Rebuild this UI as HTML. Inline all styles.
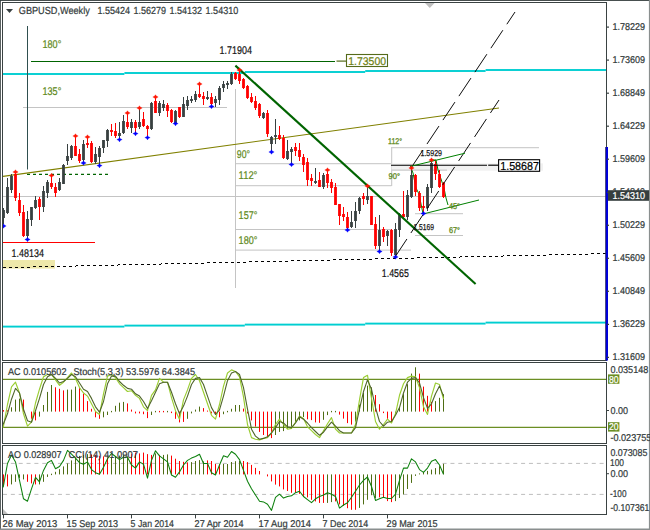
<!DOCTYPE html>
<html><head><meta charset="utf-8"><title>GBPUSD Weekly</title>
<style>html,body{margin:0;padding:0;background:#fff}svg{display:block}</style></head>
<body>
<svg width="650" height="530" viewBox="0 0 650 530" font-family="'Liberation Sans', sans-serif" text-rendering="geometricPrecision">
<rect width="650" height="530" fill="#fff"/>
<defs><clipPath id="mainclip"><rect x="3" y="3" width="603" height="357"/></clipPath></defs>
<g>
<rect x="23.0" y="107.0" width="204.0" height="1.0" fill="#c4c4c4"/>
<rect x="235.0" y="89.0" width="1.0" height="199.0" fill="#c4c4c4"/>
<rect x="235.0" y="163.2" width="156.5" height="1.0" fill="#c4c4c4"/>
<rect x="235.0" y="185.2" width="156.5" height="1.0" fill="#c4c4c4"/>
<rect x="235.0" y="229.0" width="156.5" height="1.0" fill="#c4c4c4"/>
<rect x="235.0" y="249.6" width="176.0" height="1.0" fill="#c4c4c4"/>
<rect x="3.0" y="196.0" width="603.0" height="1.0" fill="#c4c4c4"/>
<rect x="391.2" y="147.2" width="1.0" height="38.8" fill="#c4c4c4"/>
<rect x="391.2" y="147.2" width="147.8" height="1.0" fill="#c4c4c4"/>
<rect x="391.5" y="163.4" width="151.5" height="7.3" fill="#f1f1f1"/>
<rect x="391.2" y="169.6" width="55.8" height="1.0" fill="#c4c4c4"/>
<rect x="415.0" y="213.2" width="48.0" height="1.0" fill="#c4c4c4"/>
<rect x="415.0" y="235.0" width="48.0" height="1.0" fill="#c4c4c4"/>
</g>
<rect x="3" y="260" width="52" height="8.6" fill="#eee8aa"/>
<rect x="3.0" y="73.05" width="121.4" height="1.9" fill="#00ced1"/>
<rect x="3.0" y="325.65" width="121.4" height="1.9" fill="#00ced1"/>
<rect x="124.4" y="72.05" width="120.4" height="1.9" fill="#00ced1"/>
<rect x="124.4" y="324.65" width="120.4" height="1.9" fill="#00ced1"/>
<rect x="244.8" y="71.05" width="120.4" height="1.9" fill="#00ced1"/>
<rect x="244.8" y="323.65" width="120.4" height="1.9" fill="#00ced1"/>
<rect x="365.2" y="70.05" width="120.4" height="1.9" fill="#00ced1"/>
<rect x="365.2" y="322.65" width="120.4" height="1.9" fill="#00ced1"/>
<rect x="485.6" y="69.05" width="120.4" height="1.9" fill="#00ced1"/>
<rect x="485.6" y="321.65" width="120.4" height="1.9" fill="#00ced1"/>
<line x1="31" y1="61.5" x2="335" y2="61.5" stroke="#006400" stroke-width="1.2"/>
<line x1="336.5" y1="61.1" x2="346" y2="61.1" stroke="#556b1a" stroke-width="1.2"/>
<rect x="346.5" y="54.5" width="41" height="12" fill="#fff" stroke="#556b1a" stroke-width="1.1"/>
<text x="348.2" y="64.7" font-size="11.2" fill="#6d7f12" stroke="#6d7f12" stroke-width="0.22" textLength="37.9" lengthAdjust="spacingAndGlyphs">1.73500</text>
<line x1="27.5" y1="26" x2="27.5" y2="169.5" stroke="#2f4f4f" stroke-width="1"/>
<line x1="27" y1="174.4" x2="108" y2="174.4" stroke="#006400" stroke-width="1.1" stroke-dasharray="3 3"/>
<line x1="3" y1="242.5" x2="95" y2="242.5" stroke="#ff0000" stroke-width="1.2"/>
<line x1="3" y1="176.4" x2="499" y2="108" stroke="#808000" stroke-width="1.1"/>
<line x1="3" y1="267.7" x2="606" y2="253.6" stroke="#000" stroke-width="1" stroke-dasharray="3 3" shape-rendering="crispEdges"/>
<polyline points="431,160 436,160 438,170 441,179 444,188 446,198 448,205" fill="none" stroke="#008000" stroke-width="1"/>
<polyline points="411,168 413,173 416,188 419,194 421,204 423,213.6" fill="none" stroke="#008000" stroke-width="1"/>
<g clip-path="url(#mainclip)">
<rect x="3" y="208.0" width="1" height="16.0" fill="#384040"/>
<rect x="2.1" y="210.0" width="2.8" height="8.0" fill="#384040"/>
<rect x="7" y="178.0" width="1" height="36.0" fill="#384040"/>
<rect x="6.1" y="187.0" width="2.8" height="26.0" fill="#384040"/>
<rect x="11" y="174.0" width="1" height="19.0" fill="#384040"/>
<rect x="10.1" y="176.0" width="2.8" height="14.0" fill="#384040"/>
<rect x="15" y="172.0" width="1" height="29.0" fill="#ff0000"/>
<rect x="14.1" y="174.0" width="2.8" height="24.0" fill="#ff0000"/>
<rect x="19" y="193.0" width="1" height="23.0" fill="#ff0000"/>
<rect x="18.1" y="200.0" width="2.8" height="13.0" fill="#ff0000"/>
<rect x="23" y="205.0" width="1" height="32.0" fill="#ff0000"/>
<rect x="22.1" y="212.0" width="2.8" height="24.0" fill="#ff0000"/>
<rect x="27" y="211.0" width="1" height="27.0" fill="#384040"/>
<rect x="26.1" y="219.0" width="2.8" height="17.0" fill="#384040"/>
<rect x="31" y="207.0" width="1" height="19.0" fill="#384040"/>
<rect x="30.1" y="207.0" width="2.8" height="13.0" fill="#384040"/>
<rect x="35" y="196.0" width="1" height="13.0" fill="#384040"/>
<rect x="34.1" y="200.0" width="2.8" height="8.0" fill="#384040"/>
<rect x="39" y="197.0" width="1" height="23.0" fill="#ff0000"/>
<rect x="38.1" y="199.0" width="2.8" height="8.0" fill="#ff0000"/>
<rect x="43" y="186.0" width="1" height="26.0" fill="#384040"/>
<rect x="42.1" y="191.0" width="2.8" height="16.0" fill="#384040"/>
<rect x="47" y="180.0" width="1" height="18.0" fill="#384040"/>
<rect x="46.1" y="182.0" width="2.8" height="11.0" fill="#384040"/>
<rect x="51" y="176.0" width="1" height="13.0" fill="#ff0000"/>
<rect x="50.1" y="183.0" width="2.8" height="4.0" fill="#ff0000"/>
<rect x="55" y="183.0" width="1" height="14.0" fill="#ff0000"/>
<rect x="54.1" y="187.0" width="2.8" height="6.0" fill="#ff0000"/>
<rect x="59" y="178.0" width="1" height="13.0" fill="#384040"/>
<rect x="58.1" y="182.0" width="2.8" height="8.0" fill="#384040"/>
<rect x="63" y="164.0" width="1" height="20.0" fill="#384040"/>
<rect x="62.1" y="165.0" width="2.8" height="19.0" fill="#384040"/>
<rect x="67" y="144.0" width="1" height="21.0" fill="#384040"/>
<rect x="66.1" y="156.0" width="2.8" height="5.0" fill="#384040"/>
<rect x="71" y="145.0" width="1" height="15.0" fill="#384040"/>
<rect x="70.1" y="146.0" width="2.8" height="12.0" fill="#384040"/>
<rect x="75" y="137.0" width="1" height="19.0" fill="#ff0000"/>
<rect x="74.1" y="146.0" width="2.8" height="10.0" fill="#ff0000"/>
<rect x="79" y="149.0" width="1" height="14.0" fill="#ff0000"/>
<rect x="78.1" y="154.0" width="2.8" height="7.0" fill="#ff0000"/>
<rect x="83" y="140.0" width="1" height="22.0" fill="#384040"/>
<rect x="82.1" y="144.0" width="2.8" height="16.0" fill="#384040"/>
<rect x="87" y="138.0" width="1" height="10.0" fill="#ff0000"/>
<rect x="86.1" y="143.0" width="2.8" height="2.0" fill="#ff0000"/>
<rect x="91" y="141.0" width="1" height="22.0" fill="#ff0000"/>
<rect x="90.1" y="143.0" width="2.8" height="19.0" fill="#ff0000"/>
<rect x="95" y="147.0" width="1" height="17.0" fill="#384040"/>
<rect x="94.1" y="154.0" width="2.8" height="8.0" fill="#384040"/>
<rect x="99" y="146.0" width="1" height="19.0" fill="#384040"/>
<rect x="98.1" y="148.0" width="2.8" height="9.0" fill="#384040"/>
<rect x="103" y="140.0" width="1" height="13.0" fill="#384040"/>
<rect x="102.1" y="140.0" width="2.8" height="8.0" fill="#384040"/>
<rect x="107" y="129.0" width="1" height="18.0" fill="#384040"/>
<rect x="106.1" y="130.0" width="2.8" height="11.0" fill="#384040"/>
<rect x="111" y="124.0" width="1" height="12.0" fill="#ff0000"/>
<rect x="110.1" y="130.0" width="2.8" height="2.0" fill="#ff0000"/>
<rect x="115" y="123.0" width="1" height="15.0" fill="#ff0000"/>
<rect x="114.1" y="131.0" width="2.8" height="5.0" fill="#ff0000"/>
<rect x="119" y="122.0" width="1" height="17.0" fill="#384040"/>
<rect x="118.1" y="133.0" width="2.8" height="3.0" fill="#384040"/>
<rect x="123" y="115.0" width="1" height="19.0" fill="#384040"/>
<rect x="122.1" y="121.0" width="2.8" height="12.0" fill="#384040"/>
<rect x="127" y="114.0" width="1" height="15.0" fill="#ff0000"/>
<rect x="126.1" y="122.0" width="2.8" height="5.0" fill="#ff0000"/>
<rect x="131" y="119.0" width="1" height="14.0" fill="#384040"/>
<rect x="130.1" y="122.0" width="2.8" height="6.0" fill="#384040"/>
<rect x="135" y="120.0" width="1" height="12.0" fill="#ff0000"/>
<rect x="134.1" y="122.0" width="2.8" height="6.0" fill="#ff0000"/>
<rect x="139" y="109.0" width="1" height="20.0" fill="#384040"/>
<rect x="138.1" y="122.0" width="2.8" height="5.0" fill="#384040"/>
<rect x="143" y="112.0" width="1" height="15.0" fill="#ff0000"/>
<rect x="142.1" y="119.0" width="2.8" height="7.0" fill="#ff0000"/>
<rect x="147" y="125.0" width="1" height="12.0" fill="#ff0000"/>
<rect x="146.1" y="126.0" width="2.8" height="3.0" fill="#ff0000"/>
<rect x="151" y="102.0" width="1" height="28.0" fill="#384040"/>
<rect x="150.1" y="103.0" width="2.8" height="26.0" fill="#384040"/>
<rect x="155" y="98.0" width="1" height="15.0" fill="#ff0000"/>
<rect x="154.1" y="101.0" width="2.8" height="12.0" fill="#ff0000"/>
<rect x="159" y="101.0" width="1" height="15.0" fill="#384040"/>
<rect x="158.1" y="103.0" width="2.8" height="10.0" fill="#384040"/>
<rect x="163" y="100.0" width="1" height="11.0" fill="#384040"/>
<rect x="162.1" y="104.0" width="2.8" height="4.0" fill="#384040"/>
<rect x="167" y="103.0" width="1" height="14.0" fill="#ff0000"/>
<rect x="166.1" y="105.0" width="2.8" height="6.0" fill="#ff0000"/>
<rect x="171" y="109.0" width="1" height="14.0" fill="#ff0000"/>
<rect x="170.1" y="110.0" width="2.8" height="12.0" fill="#ff0000"/>
<rect x="175" y="110.0" width="1" height="14.0" fill="#384040"/>
<rect x="174.1" y="111.0" width="2.8" height="12.0" fill="#384040"/>
<rect x="179" y="107.0" width="1" height="11.0" fill="#ff0000"/>
<rect x="178.1" y="107.0" width="2.8" height="10.0" fill="#ff0000"/>
<rect x="183" y="97.0" width="1" height="20.0" fill="#384040"/>
<rect x="182.1" y="104.0" width="2.8" height="13.0" fill="#384040"/>
<rect x="187" y="96.0" width="1" height="14.0" fill="#384040"/>
<rect x="186.1" y="100.0" width="2.8" height="6.0" fill="#384040"/>
<rect x="191" y="96.0" width="1" height="7.0" fill="#384040"/>
<rect x="190.1" y="99.0" width="2.8" height="2.0" fill="#384040"/>
<rect x="195" y="91.0" width="1" height="11.0" fill="#384040"/>
<rect x="194.1" y="94.0" width="2.8" height="6.0" fill="#384040"/>
<rect x="199" y="84.0" width="1" height="14.0" fill="#ff0000"/>
<rect x="198.1" y="94.0" width="2.8" height="3.0" fill="#ff0000"/>
<rect x="203" y="92.0" width="1" height="13.0" fill="#ff0000"/>
<rect x="202.1" y="96.0" width="2.8" height="3.0" fill="#ff0000"/>
<rect x="207" y="91.0" width="1" height="9.0" fill="#384040"/>
<rect x="206.1" y="97.0" width="2.8" height="2.0" fill="#384040"/>
<rect x="211" y="93.0" width="1" height="14.0" fill="#ff0000"/>
<rect x="210.1" y="97.0" width="2.8" height="7.0" fill="#ff0000"/>
<rect x="215" y="96.0" width="1" height="11.0" fill="#384040"/>
<rect x="214.1" y="99.0" width="2.8" height="4.0" fill="#384040"/>
<rect x="219" y="86.0" width="1" height="19.0" fill="#384040"/>
<rect x="218.1" y="88.0" width="2.8" height="12.0" fill="#384040"/>
<rect x="223" y="81.0" width="1" height="11.0" fill="#384040"/>
<rect x="222.1" y="84.0" width="2.8" height="4.0" fill="#384040"/>
<rect x="227" y="81.0" width="1" height="8.0" fill="#384040"/>
<rect x="226.1" y="83.0" width="2.8" height="2.0" fill="#384040"/>
<rect x="231" y="72.0" width="1" height="13.0" fill="#384040"/>
<rect x="230.1" y="74.0" width="2.8" height="10.0" fill="#384040"/>
<rect x="235" y="72.0" width="1" height="8.0" fill="#ff0000"/>
<rect x="234.1" y="73.0" width="2.8" height="6.0" fill="#ff0000"/>
<rect x="239" y="70.0" width="1" height="14.0" fill="#ff0000"/>
<rect x="238.1" y="74.0" width="2.8" height="7.0" fill="#ff0000"/>
<rect x="243" y="78.0" width="1" height="11.0" fill="#ff0000"/>
<rect x="242.1" y="79.0" width="2.8" height="9.0" fill="#ff0000"/>
<rect x="247" y="85.0" width="1" height="14.0" fill="#ff0000"/>
<rect x="246.1" y="86.0" width="2.8" height="12.0" fill="#ff0000"/>
<rect x="251" y="93.0" width="1" height="10.0" fill="#ff0000"/>
<rect x="250.1" y="97.0" width="2.8" height="5.0" fill="#ff0000"/>
<rect x="255" y="96.0" width="1" height="14.0" fill="#ff0000"/>
<rect x="254.1" y="101.0" width="2.8" height="7.0" fill="#ff0000"/>
<rect x="259" y="103.0" width="1" height="15.0" fill="#ff0000"/>
<rect x="258.1" y="104.0" width="2.8" height="12.0" fill="#ff0000"/>
<rect x="263" y="112.0" width="1" height="7.0" fill="#384040"/>
<rect x="262.1" y="113.0" width="2.8" height="5.0" fill="#384040"/>
<rect x="267" y="110.0" width="1" height="27.0" fill="#ff0000"/>
<rect x="266.1" y="113.0" width="2.8" height="21.0" fill="#ff0000"/>
<rect x="271" y="136.0" width="1" height="16.0" fill="#384040"/>
<rect x="270.1" y="137.0" width="2.8" height="7.0" fill="#384040"/>
<rect x="275" y="119.0" width="1" height="25.0" fill="#384040"/>
<rect x="274.1" y="135.0" width="2.8" height="2.0" fill="#384040"/>
<rect x="279" y="126.0" width="1" height="14.0" fill="#ff0000"/>
<rect x="278.1" y="135.0" width="2.8" height="4.0" fill="#ff0000"/>
<rect x="283" y="135.0" width="1" height="24.0" fill="#ff0000"/>
<rect x="282.1" y="138.0" width="2.8" height="20.0" fill="#ff0000"/>
<rect x="287" y="140.0" width="1" height="20.0" fill="#384040"/>
<rect x="286.1" y="151.0" width="2.8" height="8.0" fill="#384040"/>
<rect x="291" y="147.0" width="1" height="17.0" fill="#384040"/>
<rect x="290.1" y="149.0" width="2.8" height="3.0" fill="#384040"/>
<rect x="295" y="143.0" width="1" height="13.0" fill="#ff0000"/>
<rect x="294.1" y="147.0" width="2.8" height="4.0" fill="#ff0000"/>
<rect x="299" y="143.0" width="1" height="18.0" fill="#ff0000"/>
<rect x="298.1" y="150.0" width="2.8" height="7.0" fill="#ff0000"/>
<rect x="303" y="154.0" width="1" height="18.0" fill="#ff0000"/>
<rect x="302.1" y="157.0" width="2.8" height="8.0" fill="#ff0000"/>
<rect x="307" y="158.0" width="1" height="28.0" fill="#ff0000"/>
<rect x="306.1" y="162.0" width="2.8" height="18.0" fill="#ff0000"/>
<rect x="311" y="174.0" width="1" height="12.0" fill="#ff0000"/>
<rect x="310.1" y="178.0" width="2.8" height="3.0" fill="#ff0000"/>
<rect x="315" y="168.0" width="1" height="16.0" fill="#384040"/>
<rect x="314.1" y="181.0" width="2.8" height="2.0" fill="#384040"/>
<rect x="319" y="172.0" width="1" height="15.0" fill="#ff0000"/>
<rect x="318.1" y="180.0" width="2.8" height="7.0" fill="#ff0000"/>
<rect x="323" y="173.0" width="1" height="16.0" fill="#384040"/>
<rect x="322.1" y="175.0" width="2.8" height="12.0" fill="#384040"/>
<rect x="327" y="171.0" width="1" height="17.0" fill="#ff0000"/>
<rect x="326.1" y="174.0" width="2.8" height="9.0" fill="#ff0000"/>
<rect x="331" y="179.0" width="1" height="14.0" fill="#ff0000"/>
<rect x="330.1" y="182.0" width="2.8" height="6.0" fill="#ff0000"/>
<rect x="335" y="183.0" width="1" height="22.0" fill="#ff0000"/>
<rect x="334.1" y="187.0" width="2.8" height="18.0" fill="#ff0000"/>
<rect x="339" y="204.0" width="1" height="21.0" fill="#ff0000"/>
<rect x="338.1" y="204.0" width="2.8" height="12.0" fill="#ff0000"/>
<rect x="343" y="207.0" width="1" height="14.0" fill="#ff0000"/>
<rect x="342.1" y="214.0" width="2.8" height="3.0" fill="#ff0000"/>
<rect x="347" y="212.0" width="1" height="17.0" fill="#ff0000"/>
<rect x="346.1" y="217.0" width="2.8" height="11.0" fill="#ff0000"/>
<rect x="351" y="211.0" width="1" height="17.0" fill="#384040"/>
<rect x="350.1" y="222.0" width="2.8" height="5.0" fill="#384040"/>
<rect x="355" y="202.0" width="1" height="26.0" fill="#384040"/>
<rect x="354.1" y="211.0" width="2.8" height="10.0" fill="#384040"/>
<rect x="359" y="197.0" width="1" height="17.0" fill="#384040"/>
<rect x="358.1" y="198.0" width="2.8" height="13.0" fill="#384040"/>
<rect x="363" y="193.0" width="1" height="12.0" fill="#ff0000"/>
<rect x="362.1" y="196.0" width="2.8" height="3.0" fill="#ff0000"/>
<rect x="367" y="187.0" width="1" height="17.0" fill="#384040"/>
<rect x="366.1" y="196.0" width="2.8" height="4.0" fill="#384040"/>
<rect x="371" y="196.0" width="1" height="29.0" fill="#ff0000"/>
<rect x="370.1" y="196.0" width="2.8" height="29.0" fill="#ff0000"/>
<rect x="375" y="217.0" width="1" height="32.0" fill="#ff0000"/>
<rect x="374.1" y="224.0" width="2.8" height="22.0" fill="#ff0000"/>
<rect x="379" y="215.0" width="1" height="35.0" fill="#384040"/>
<rect x="378.1" y="230.0" width="2.8" height="16.0" fill="#384040"/>
<rect x="383" y="227.0" width="1" height="15.0" fill="#ff0000"/>
<rect x="382.1" y="229.0" width="2.8" height="8.0" fill="#ff0000"/>
<rect x="387" y="230.0" width="1" height="16.0" fill="#384040"/>
<rect x="386.1" y="231.0" width="2.8" height="5.0" fill="#384040"/>
<rect x="391" y="229.0" width="1" height="27.0" fill="#ff0000"/>
<rect x="390.1" y="230.0" width="2.8" height="23.0" fill="#ff0000"/>
<rect x="395" y="223.0" width="1" height="33.0" fill="#384040"/>
<rect x="394.1" y="229.0" width="2.8" height="26.0" fill="#384040"/>
<rect x="399" y="213.0" width="1" height="24.0" fill="#384040"/>
<rect x="398.1" y="214.0" width="2.8" height="16.0" fill="#384040"/>
<rect x="403" y="191.0" width="1" height="27.0" fill="#ff0000"/>
<rect x="402.1" y="214.0" width="2.8" height="3.0" fill="#ff0000"/>
<rect x="407" y="190.0" width="1" height="30.0" fill="#384040"/>
<rect x="406.1" y="195.0" width="2.8" height="22.0" fill="#384040"/>
<rect x="411" y="169.0" width="1" height="29.0" fill="#384040"/>
<rect x="410.1" y="175.0" width="2.8" height="22.0" fill="#384040"/>
<rect x="415" y="174.0" width="1" height="22.0" fill="#ff0000"/>
<rect x="414.1" y="175.0" width="2.8" height="17.0" fill="#ff0000"/>
<rect x="419" y="191.0" width="1" height="20.0" fill="#ff0000"/>
<rect x="418.1" y="193.0" width="2.8" height="15.0" fill="#ff0000"/>
<rect x="423" y="196.0" width="1" height="18.0" fill="#ff0000"/>
<rect x="422.1" y="206.0" width="2.8" height="2.0" fill="#ff0000"/>
<rect x="427" y="184.0" width="1" height="27.0" fill="#384040"/>
<rect x="426.1" y="187.0" width="2.8" height="21.0" fill="#384040"/>
<rect x="431" y="160.0" width="1" height="33.0" fill="#384040"/>
<rect x="430.1" y="163.0" width="2.8" height="25.0" fill="#384040"/>
<rect x="435" y="161.0" width="1" height="19.0" fill="#ff0000"/>
<rect x="434.1" y="164.0" width="2.8" height="10.0" fill="#ff0000"/>
<rect x="439" y="170.0" width="1" height="18.0" fill="#ff0000"/>
<rect x="438.1" y="174.0" width="2.8" height="13.0" fill="#ff0000"/>
<rect x="443" y="182.0" width="1" height="16.0" fill="#ff0000"/>
<rect x="442.1" y="183.0" width="2.8" height="14.0" fill="#ff0000"/>
</g>
<line x1="235.4" y1="65.6" x2="475.6" y2="284" stroke="#006400" stroke-width="2.1"/>
<line x1="411" y1="168" x2="515" y2="12" stroke="#000" stroke-width="0.95" stroke-dasharray="21.6 7.2"/>
<line x1="395" y1="257" x2="499" y2="100" stroke="#000" stroke-width="0.95" stroke-dasharray="21.6 7.2"/>
<line x1="391" y1="165.2" x2="487" y2="165.2" stroke="#000" stroke-width="1.15"/>
<line x1="488.2" y1="165.2" x2="498" y2="165.2" stroke="#000" stroke-width="1.15"/>
<rect x="498.6" y="159.7" width="41" height="11.6" fill="#fff" stroke="#000" stroke-width="1.1"/>
<text x="500.2" y="170.0" font-size="11.6" fill="#000" stroke="#000" stroke-width="0.22" textLength="38.8" lengthAdjust="spacingAndGlyphs">1.58687</text>
<line x1="410" y1="166.5" x2="465" y2="153.2" stroke="#008000" stroke-width="1"/>
<line x1="423" y1="214" x2="479" y2="200" stroke="#008000" stroke-width="1"/>
<g clip-path="url(#mainclip)">
<path d="M15.5 169.7 l0.9 1.4 l1.8 0.9 l-1.8 0.9 l-0.9 1.4 l-0.9 -1.4 l-1.8 -0.9 l1.8 -0.9z" fill="#ff1400" stroke="#ff1400" stroke-width="0.5" stroke-opacity="0.55"/>
<path d="M51.5 173.2 l0.9 1.4 l1.8 0.9 l-1.8 0.9 l-0.9 1.4 l-0.9 -1.4 l-1.8 -0.9 l1.8 -0.9z" fill="#ff1400" stroke="#ff1400" stroke-width="0.5" stroke-opacity="0.55"/>
<path d="M75.5 133.7 l0.9 1.4 l1.8 0.9 l-1.8 0.9 l-0.9 1.4 l-0.9 -1.4 l-1.8 -0.9 l1.8 -0.9z" fill="#ff1400" stroke="#ff1400" stroke-width="0.5" stroke-opacity="0.55"/>
<path d="M87.5 134.7 l0.9 1.4 l1.8 0.9 l-1.8 0.9 l-0.9 1.4 l-0.9 -1.4 l-1.8 -0.9 l1.8 -0.9z" fill="#ff1400" stroke="#ff1400" stroke-width="0.5" stroke-opacity="0.55"/>
<path d="M127.5 110.7 l0.9 1.4 l1.8 0.9 l-1.8 0.9 l-0.9 1.4 l-0.9 -1.4 l-1.8 -0.9 l1.8 -0.9z" fill="#ff1400" stroke="#ff1400" stroke-width="0.5" stroke-opacity="0.55"/>
<path d="M139.5 105.7 l0.9 1.4 l1.8 0.9 l-1.8 0.9 l-0.9 1.4 l-0.9 -1.4 l-1.8 -0.9 l1.8 -0.9z" fill="#ff1400" stroke="#ff1400" stroke-width="0.5" stroke-opacity="0.55"/>
<path d="M155.5 94.7 l0.9 1.4 l1.8 0.9 l-1.8 0.9 l-0.9 1.4 l-0.9 -1.4 l-1.8 -0.9 l1.8 -0.9z" fill="#ff1400" stroke="#ff1400" stroke-width="0.5" stroke-opacity="0.55"/>
<path d="M199.5 81.7 l0.9 1.4 l1.8 0.9 l-1.8 0.9 l-0.9 1.4 l-0.9 -1.4 l-1.8 -0.9 l1.8 -0.9z" fill="#ff1400" stroke="#ff1400" stroke-width="0.5" stroke-opacity="0.55"/>
<path d="M239.5 67.7 l0.9 1.4 l1.8 0.9 l-1.8 0.9 l-0.9 1.4 l-0.9 -1.4 l-1.8 -0.9 l1.8 -0.9z" fill="#ff1400" stroke="#ff1400" stroke-width="0.5" stroke-opacity="0.55"/>
<path d="M327.5 167.7 l0.9 1.4 l1.8 0.9 l-1.8 0.9 l-0.9 1.4 l-0.9 -1.4 l-1.8 -0.9 l1.8 -0.9z" fill="#ff1400" stroke="#ff1400" stroke-width="0.5" stroke-opacity="0.55"/>
<path d="M367.5 183.7 l0.9 1.4 l1.8 0.9 l-1.8 0.9 l-0.9 1.4 l-0.9 -1.4 l-1.8 -0.9 l1.8 -0.9z" fill="#ff1400" stroke="#ff1400" stroke-width="0.5" stroke-opacity="0.55"/>
<path d="M411.5 165.7 l0.9 1.4 l1.8 0.9 l-1.8 0.9 l-0.9 1.4 l-0.9 -1.4 l-1.8 -0.9 l1.8 -0.9z" fill="#ff1400" stroke="#ff1400" stroke-width="0.5" stroke-opacity="0.55"/>
<path d="M431.5 157.7 l0.9 1.4 l1.8 0.9 l-1.8 0.9 l-0.9 1.4 l-0.9 -1.4 l-1.8 -0.9 l1.8 -0.9z" fill="#ff1400" stroke="#ff1400" stroke-width="0.5" stroke-opacity="0.55"/>
<path d="M3.5 223.7 l0.9 1.4 l1.8 0.9 l-1.8 0.9 l-0.9 1.4 l-0.9 -1.4 l-1.8 -0.9 l1.8 -0.9z" fill="#0000ff" stroke="#0000ff" stroke-width="0.5" stroke-opacity="0.55"/>
<path d="M27.5 237.2 l0.9 1.4 l1.8 0.9 l-1.8 0.9 l-0.9 1.4 l-0.9 -1.4 l-1.8 -0.9 l1.8 -0.9z" fill="#0000ff" stroke="#0000ff" stroke-width="0.5" stroke-opacity="0.55"/>
<path d="M83.5 160.7 l0.9 1.4 l1.8 0.9 l-1.8 0.9 l-0.9 1.4 l-0.9 -1.4 l-1.8 -0.9 l1.8 -0.9z" fill="#0000ff" stroke="#0000ff" stroke-width="0.5" stroke-opacity="0.55"/>
<path d="M99.5 163.3 l0.9 1.4 l1.8 0.9 l-1.8 0.9 l-0.9 1.4 l-0.9 -1.4 l-1.8 -0.9 l1.8 -0.9z" fill="#0000ff" stroke="#0000ff" stroke-width="0.5" stroke-opacity="0.55"/>
<path d="M119.5 137.3 l0.9 1.4 l1.8 0.9 l-1.8 0.9 l-0.9 1.4 l-0.9 -1.4 l-1.8 -0.9 l1.8 -0.9z" fill="#0000ff" stroke="#0000ff" stroke-width="0.5" stroke-opacity="0.55"/>
<path d="M135.5 131.3 l0.9 1.4 l1.8 0.9 l-1.8 0.9 l-0.9 1.4 l-0.9 -1.4 l-1.8 -0.9 l1.8 -0.9z" fill="#0000ff" stroke="#0000ff" stroke-width="0.5" stroke-opacity="0.55"/>
<path d="M147.5 135.3 l0.9 1.4 l1.8 0.9 l-1.8 0.9 l-0.9 1.4 l-0.9 -1.4 l-1.8 -0.9 l1.8 -0.9z" fill="#0000ff" stroke="#0000ff" stroke-width="0.5" stroke-opacity="0.55"/>
<path d="M175.5 121.3 l0.9 1.4 l1.8 0.9 l-1.8 0.9 l-0.9 1.4 l-0.9 -1.4 l-1.8 -0.9 l1.8 -0.9z" fill="#0000ff" stroke="#0000ff" stroke-width="0.5" stroke-opacity="0.55"/>
<path d="M211.5 104.2 l0.9 1.4 l1.8 0.9 l-1.8 0.9 l-0.9 1.4 l-0.9 -1.4 l-1.8 -0.9 l1.8 -0.9z" fill="#0000ff" stroke="#0000ff" stroke-width="0.5" stroke-opacity="0.55"/>
<path d="M271.5 149.7 l0.9 1.4 l1.8 0.9 l-1.8 0.9 l-0.9 1.4 l-0.9 -1.4 l-1.8 -0.9 l1.8 -0.9z" fill="#0000ff" stroke="#0000ff" stroke-width="0.5" stroke-opacity="0.55"/>
<path d="M291.5 162.2 l0.9 1.4 l1.8 0.9 l-1.8 0.9 l-0.9 1.4 l-0.9 -1.4 l-1.8 -0.9 l1.8 -0.9z" fill="#0000ff" stroke="#0000ff" stroke-width="0.5" stroke-opacity="0.55"/>
<path d="M347.5 227.7 l0.9 1.4 l1.8 0.9 l-1.8 0.9 l-0.9 1.4 l-0.9 -1.4 l-1.8 -0.9 l1.8 -0.9z" fill="#0000ff" stroke="#0000ff" stroke-width="0.5" stroke-opacity="0.55"/>
<path d="M379.5 249.2 l0.9 1.4 l1.8 0.9 l-1.8 0.9 l-0.9 1.4 l-0.9 -1.4 l-1.8 -0.9 l1.8 -0.9z" fill="#0000ff" stroke="#0000ff" stroke-width="0.5" stroke-opacity="0.55"/>
<path d="M395.5 254.7 l0.9 1.4 l1.8 0.9 l-1.8 0.9 l-0.9 1.4 l-0.9 -1.4 l-1.8 -0.9 l1.8 -0.9z" fill="#0000ff" stroke="#0000ff" stroke-width="0.5" stroke-opacity="0.55"/>
<path d="M423.5 211.2 l0.9 1.4 l1.8 0.9 l-1.8 0.9 l-0.9 1.4 l-0.9 -1.4 l-1.8 -0.9 l1.8 -0.9z" fill="#0000ff" stroke="#0000ff" stroke-width="0.5" stroke-opacity="0.55"/>
</g>
<text x="42.5" y="47.8" font-size="11.2" fill="#5f8a1c" stroke="#5f8a1c" stroke-width="0.22" textLength="18.8" lengthAdjust="spacingAndGlyphs">180°</text>
<text x="42.5" y="94.8" font-size="11.2" fill="#5f8a1c" stroke="#5f8a1c" stroke-width="0.22" textLength="18.8" lengthAdjust="spacingAndGlyphs">135°</text>
<text x="236.8" y="158.0" font-size="11.2" fill="#5f8a1c" stroke="#5f8a1c" stroke-width="0.22" textLength="13.2" lengthAdjust="spacingAndGlyphs">90°</text>
<text x="238.6" y="179.0" font-size="11.2" fill="#5f8a1c" stroke="#5f8a1c" stroke-width="0.22" textLength="18.8" lengthAdjust="spacingAndGlyphs">112°</text>
<text x="238.6" y="219.0" font-size="11.2" fill="#5f8a1c" stroke="#5f8a1c" stroke-width="0.22" textLength="18.8" lengthAdjust="spacingAndGlyphs">157°</text>
<text x="238.6" y="243.6" font-size="11.2" fill="#5f8a1c" stroke="#5f8a1c" stroke-width="0.22" textLength="18.8" lengthAdjust="spacingAndGlyphs">180°</text>
<text x="388.0" y="144.0" font-size="8.4" fill="#5f8a1c" stroke="#5f8a1c" stroke-width="0.30" textLength="14.0" lengthAdjust="spacingAndGlyphs">112°</text>
<text x="388.5" y="179.0" font-size="8.4" fill="#5f8a1c" stroke="#5f8a1c" stroke-width="0.30" textLength="11.5" lengthAdjust="spacingAndGlyphs">90°</text>
<text x="449.0" y="209.0" font-size="8.4" fill="#5f8a1c" stroke="#5f8a1c" stroke-width="0.30" textLength="11.0" lengthAdjust="spacingAndGlyphs">45°</text>
<text x="449.0" y="233.0" font-size="8.4" fill="#5f8a1c" stroke="#5f8a1c" stroke-width="0.30" textLength="11.0" lengthAdjust="spacingAndGlyphs">67°</text>
<text x="219.6" y="54.0" font-size="11.2" fill="#151515" stroke="#151515" stroke-width="0.22" textLength="32.3" lengthAdjust="spacingAndGlyphs">1.71904</text>
<text x="11.6" y="256.8" font-size="11.2" fill="#151515" stroke="#151515" stroke-width="0.22" textLength="32.3" lengthAdjust="spacingAndGlyphs">1.48134</text>
<text x="381.8" y="277.2" font-size="11.2" fill="#151515" stroke="#151515" stroke-width="0.22" textLength="27.0" lengthAdjust="spacingAndGlyphs">1.4565</text>
<text x="420.5" y="156.0" font-size="8.6" fill="#151515" stroke="#151515" stroke-width="0.25" textLength="21.5" lengthAdjust="spacingAndGlyphs">1.5929</text>
<text x="413.5" y="230.0" font-size="8.6" fill="#151515" stroke="#151515" stroke-width="0.25" textLength="20.5" lengthAdjust="spacingAndGlyphs">1.5169</text>
<path d="M6 9 h7 l-3.5 4z" fill="#384040"/>
<text x="18.8" y="14.0" font-size="10.3" fill="#333b3b" stroke="#333b3b" stroke-width="0.22" textLength="71.0" lengthAdjust="spacingAndGlyphs">GBPUSD,Weekly</text>
<text x="97.4" y="14.0" font-size="10.3" fill="#333b3b" stroke="#333b3b" stroke-width="0.22" textLength="32.6" lengthAdjust="spacingAndGlyphs">1.55424</text>
<text x="133.5" y="14.0" font-size="10.3" fill="#333b3b" stroke="#333b3b" stroke-width="0.22" textLength="32.6" lengthAdjust="spacingAndGlyphs">1.56279</text>
<text x="169.5" y="14.0" font-size="10.3" fill="#333b3b" stroke="#333b3b" stroke-width="0.22" textLength="32.6" lengthAdjust="spacingAndGlyphs">1.54132</text>
<text x="205.6" y="14.0" font-size="10.3" fill="#333b3b" stroke="#333b3b" stroke-width="0.22" textLength="32.6" lengthAdjust="spacingAndGlyphs">1.54310</text>
<path d="M425 3 h9.6 l-4.8 5z" fill="#c0c0c0"/>
<g shape-rendering="crispEdges" fill="none" stroke="#3a4242" stroke-width="1">
<rect x="2.5" y="2.5" width="604" height="358"/>
<rect x="2.5" y="362.5" width="604" height="81"/>
<rect x="2.5" y="445.5" width="604" height="69"/>
</g>
<g>
<rect x="0" y="0" width="650" height="0.9" fill="#333b3b"/>
<rect x="0" y="0" width="0.8" height="530" fill="#333b3b"/>
<rect x="648.9" y="0" width="1.1" height="530" fill="#8a8f8f"/>
<rect x="0" y="528.5" width="650" height="1.5" fill="#8a8f8f"/>
</g>
<rect x="605.2" y="147" width="0.8" height="213.5" fill="#2a2a5a"/>
<rect x="605.9" y="147" width="2.1" height="213.5" fill="#0000d8"/>
<rect x="607" y="26.5" width="2" height="1.2" fill="#3a4242"/>
<text x="612.4" y="29.9" font-size="9.9" fill="#333b3b" stroke="#333b3b" stroke-width="0.22" textLength="32.6" lengthAdjust="spacingAndGlyphs">1.78229</text>
<rect x="607" y="59.5" width="2" height="1.2" fill="#3a4242"/>
<text x="612.4" y="62.9" font-size="9.9" fill="#333b3b" stroke="#333b3b" stroke-width="0.22" textLength="32.6" lengthAdjust="spacingAndGlyphs">1.73609</text>
<rect x="607" y="92.6" width="2" height="1.2" fill="#3a4242"/>
<text x="612.4" y="96.0" font-size="9.9" fill="#333b3b" stroke="#333b3b" stroke-width="0.22" textLength="32.6" lengthAdjust="spacingAndGlyphs">1.68849</text>
<rect x="607" y="125.6" width="2" height="1.2" fill="#3a4242"/>
<text x="612.4" y="129.0" font-size="9.9" fill="#333b3b" stroke="#333b3b" stroke-width="0.22" textLength="32.6" lengthAdjust="spacingAndGlyphs">1.64229</text>
<rect x="607" y="158.6" width="2" height="1.2" fill="#3a4242"/>
<text x="612.4" y="162.0" font-size="9.9" fill="#333b3b" stroke="#333b3b" stroke-width="0.22" textLength="32.6" lengthAdjust="spacingAndGlyphs">1.59609</text>
<rect x="607" y="191.7" width="2" height="1.2" fill="#3a4242"/>
<text x="612.4" y="195.1" font-size="9.9" fill="#333b3b" stroke="#333b3b" stroke-width="0.22" textLength="32.6" lengthAdjust="spacingAndGlyphs">1.54849</text>
<rect x="607" y="224.7" width="2" height="1.2" fill="#3a4242"/>
<text x="612.4" y="228.1" font-size="9.9" fill="#333b3b" stroke="#333b3b" stroke-width="0.22" textLength="32.6" lengthAdjust="spacingAndGlyphs">1.50229</text>
<rect x="607" y="257.7" width="2" height="1.2" fill="#3a4242"/>
<text x="612.4" y="261.1" font-size="9.9" fill="#333b3b" stroke="#333b3b" stroke-width="0.22" textLength="32.6" lengthAdjust="spacingAndGlyphs">1.45609</text>
<rect x="607" y="290.7" width="2" height="1.2" fill="#3a4242"/>
<text x="612.4" y="294.1" font-size="9.9" fill="#333b3b" stroke="#333b3b" stroke-width="0.22" textLength="32.6" lengthAdjust="spacingAndGlyphs">1.40849</text>
<rect x="607" y="323.8" width="2" height="1.2" fill="#3a4242"/>
<text x="612.4" y="327.2" font-size="9.9" fill="#333b3b" stroke="#333b3b" stroke-width="0.22" textLength="32.6" lengthAdjust="spacingAndGlyphs">1.36229</text>
<rect x="607" y="356.8" width="2" height="1.2" fill="#3a4242"/>
<text x="612.4" y="360.2" font-size="9.9" fill="#333b3b" stroke="#333b3b" stroke-width="0.22" textLength="32.6" lengthAdjust="spacingAndGlyphs">1.31609</text>
<rect x="608" y="190.2" width="41" height="10.6" fill="#363f3f"/>
<text x="612.4" y="199.2" font-size="9.9" fill="#fff" stroke="#fff" stroke-width="0.22" textLength="32.6" lengthAdjust="spacingAndGlyphs">1.54310</text>
<line x1="3" y1="379.4" x2="606" y2="379.4" stroke="#6b8e23" stroke-width="1.3"/>
<line x1="3" y1="427.4" x2="606" y2="427.4" stroke="#6b8e23" stroke-width="1.3"/>
<g>
<rect x="3" y="410.1" width="1" height="1.5" fill="#ff0000"/>
<rect x="7" y="410.4" width="1" height="1.2" fill="#ff0000"/>
<rect x="11" y="407.3" width="1" height="4.3" fill="#4f6d14"/>
<rect x="15" y="399.6" width="1" height="12.0" fill="#4f6d14"/>
<rect x="19" y="398.6" width="1" height="13.0" fill="#4f6d14"/>
<rect x="23" y="399.6" width="1" height="12.0" fill="#ff0000"/>
<rect x="31" y="411.6" width="1" height="7.2" fill="#ff0000"/>
<rect x="35" y="411.6" width="1" height="8.8" fill="#ff0000"/>
<rect x="39" y="411.6" width="1" height="5.0" fill="#4f6d14"/>
<rect x="43" y="405.0" width="1" height="6.6" fill="#4f6d14"/>
<rect x="47" y="391.9" width="1" height="19.7" fill="#4f6d14"/>
<rect x="51" y="385.0" width="1" height="26.6" fill="#4f6d14"/>
<rect x="55" y="387.3" width="1" height="24.3" fill="#ff0000"/>
<rect x="59" y="388.8" width="1" height="22.8" fill="#ff0000"/>
<rect x="63" y="390.4" width="1" height="21.2" fill="#ff0000"/>
<rect x="67" y="389.6" width="1" height="22.0" fill="#4f6d14"/>
<rect x="71" y="389.6" width="1" height="22.0" fill="#4f6d14"/>
<rect x="75" y="386.6" width="1" height="25.0" fill="#4f6d14"/>
<rect x="79" y="388.1" width="1" height="23.5" fill="#ff0000"/>
<rect x="83" y="393.6" width="1" height="18.0" fill="#ff0000"/>
<rect x="87" y="401.1" width="1" height="10.5" fill="#ff0000"/>
<rect x="91" y="408.8" width="1" height="2.8" fill="#ff0000"/>
<rect x="95" y="411.6" width="1" height="5.7" fill="#ff0000"/>
<rect x="99" y="411.6" width="1" height="7.2" fill="#ff0000"/>
<rect x="103" y="411.6" width="1" height="5.7" fill="#4f6d14"/>
<rect x="107" y="411.6" width="1" height="3.4" fill="#4f6d14"/>
<rect x="111" y="410.9" width="1" height="1.4" fill="#4f6d14"/>
<rect x="115" y="405.8" width="1" height="5.8" fill="#4f6d14"/>
<rect x="119" y="402.7" width="1" height="8.9" fill="#4f6d14"/>
<rect x="123" y="401.9" width="1" height="9.7" fill="#4f6d14"/>
<rect x="127" y="403.4" width="1" height="8.2" fill="#ff0000"/>
<rect x="131" y="409.6" width="1" height="2.0" fill="#ff0000"/>
<rect x="135" y="411.6" width="1" height="1.8" fill="#ff0000"/>
<rect x="139" y="411.6" width="1" height="1.8" fill="#ff0000"/>
<rect x="143" y="411.6" width="1" height="2.6" fill="#ff0000"/>
<rect x="147" y="411.6" width="1" height="6.5" fill="#ff0000"/>
<rect x="151" y="411.6" width="1" height="3.4" fill="#4f6d14"/>
<rect x="155" y="410.9" width="1" height="1.4" fill="#4f6d14"/>
<rect x="159" y="410.9" width="1" height="1.4" fill="#ff0000"/>
<rect x="163" y="410.9" width="1" height="1.4" fill="#ff0000"/>
<rect x="167" y="410.9" width="1" height="1.4" fill="#4f6d14"/>
<rect x="171" y="411.6" width="1" height="1.5" fill="#ff0000"/>
<rect x="175" y="411.6" width="1" height="7.2" fill="#ff0000"/>
<rect x="179" y="411.6" width="1" height="10.8" fill="#ff0000"/>
<rect x="183" y="411.6" width="1" height="10.3" fill="#ff0000"/>
<rect x="187" y="411.6" width="1" height="7.2" fill="#4f6d14"/>
<rect x="191" y="411.6" width="1" height="1.8" fill="#4f6d14"/>
<rect x="195" y="409.6" width="1" height="2.0" fill="#4f6d14"/>
<rect x="199" y="406.6" width="1" height="5.0" fill="#4f6d14"/>
<rect x="203" y="408.1" width="1" height="3.5" fill="#ff0000"/>
<rect x="207" y="410.6" width="1" height="1.0" fill="#ff0000"/>
<rect x="211" y="411.6" width="1" height="1.8" fill="#ff0000"/>
<rect x="215" y="411.6" width="1" height="3.4" fill="#ff0000"/>
<rect x="219" y="411.6" width="1" height="5.7" fill="#ff0000"/>
<rect x="223" y="411.6" width="1" height="2.6" fill="#4f6d14"/>
<rect x="227" y="410.9" width="1" height="1.4" fill="#4f6d14"/>
<rect x="231" y="408.8" width="1" height="2.8" fill="#4f6d14"/>
<rect x="235" y="405.0" width="1" height="6.6" fill="#4f6d14"/>
<rect x="239" y="405.0" width="1" height="6.6" fill="#4f6d14"/>
<rect x="243" y="408.6" width="1" height="3.0" fill="#ff0000"/>
<rect x="247" y="411.6" width="1" height="1.8" fill="#ff0000"/>
<rect x="251" y="411.6" width="1" height="8.8" fill="#ff0000"/>
<rect x="255" y="411.6" width="1" height="15.0" fill="#ff0000"/>
<rect x="259" y="411.6" width="1" height="20.3" fill="#ff0000"/>
<rect x="263" y="411.6" width="1" height="23.4" fill="#ff0000"/>
<rect x="267" y="411.6" width="1" height="25.0" fill="#ff0000"/>
<rect x="271" y="411.6" width="1" height="26.5" fill="#ff0000"/>
<rect x="275" y="411.6" width="1" height="23.4" fill="#4f6d14"/>
<rect x="279" y="411.6" width="1" height="20.3" fill="#4f6d14"/>
<rect x="283" y="411.6" width="1" height="19.5" fill="#4f6d14"/>
<rect x="287" y="411.6" width="1" height="17.2" fill="#4f6d14"/>
<rect x="291" y="411.6" width="1" height="15.0" fill="#4f6d14"/>
<rect x="295" y="411.6" width="1" height="11.0" fill="#4f6d14"/>
<rect x="299" y="411.6" width="1" height="8.8" fill="#4f6d14"/>
<rect x="303" y="411.6" width="1" height="5.4" fill="#4f6d14"/>
<rect x="307" y="411.6" width="1" height="7.7" fill="#ff0000"/>
<rect x="311" y="411.6" width="1" height="8.5" fill="#ff0000"/>
<rect x="315" y="411.6" width="1" height="10.8" fill="#ff0000"/>
<rect x="319" y="411.6" width="1" height="11.2" fill="#ff0000"/>
<rect x="323" y="411.6" width="1" height="8.2" fill="#4f6d14"/>
<rect x="327" y="411.6" width="1" height="3.5" fill="#4f6d14"/>
<rect x="331" y="410.9" width="1" height="1.4" fill="#4f6d14"/>
<rect x="335" y="410.9" width="1" height="1.4" fill="#4f6d14"/>
<rect x="339" y="411.6" width="1" height="3.0" fill="#ff0000"/>
<rect x="343" y="411.6" width="1" height="7.0" fill="#ff0000"/>
<rect x="347" y="411.6" width="1" height="11.5" fill="#ff0000"/>
<rect x="351" y="411.6" width="1" height="13.0" fill="#ff0000"/>
<rect x="355" y="411.6" width="1" height="10.0" fill="#4f6d14"/>
<rect x="359" y="404.6" width="1" height="7.0" fill="#4f6d14"/>
<rect x="363" y="392.6" width="1" height="19.0" fill="#4f6d14"/>
<rect x="367" y="385.6" width="1" height="26.0" fill="#4f6d14"/>
<rect x="371" y="387.3" width="1" height="24.3" fill="#4f6d14"/>
<rect x="375" y="395.0" width="1" height="16.6" fill="#ff0000"/>
<rect x="379" y="404.2" width="1" height="7.4" fill="#ff0000"/>
<rect x="383" y="411.6" width="1" height="1.5" fill="#ff0000"/>
<rect x="387" y="411.6" width="1" height="7.2" fill="#ff0000"/>
<rect x="391" y="411.6" width="1" height="10.3" fill="#ff0000"/>
<rect x="395" y="411.6" width="1" height="3.0" fill="#4f6d14"/>
<rect x="399" y="407.6" width="1" height="4.0" fill="#4f6d14"/>
<rect x="403" y="394.2" width="1" height="17.4" fill="#4f6d14"/>
<rect x="407" y="384.2" width="1" height="27.4" fill="#4f6d14"/>
<rect x="411" y="373.6" width="1" height="38.0" fill="#4f6d14"/>
<rect x="415" y="367.3" width="1" height="44.3" fill="#4f6d14"/>
<rect x="419" y="373.6" width="1" height="38.0" fill="#ff0000"/>
<rect x="423" y="386.6" width="1" height="25.0" fill="#ff0000"/>
<rect x="427" y="395.8" width="1" height="15.8" fill="#ff0000"/>
<rect x="431" y="401.9" width="1" height="9.7" fill="#ff0000"/>
<rect x="435" y="401.1" width="1" height="10.5" fill="#4f6d14"/>
<rect x="439" y="397.8" width="1" height="13.8" fill="#4f6d14"/>
<rect x="443" y="394.2" width="1" height="17.4" fill="#4f6d14"/>
</g>
<polyline points="3.2,427.6 7.5,404.5 11.5,386.8 15.5,382.2 19.5,393.0 23.5,413.8 27.5,426.1 31.5,422.2 35.5,403.0 39.5,389.2 43.5,376.8 47.5,374.5 51.5,374.5 55.5,379.9 59.5,385.3 63.5,382.2 67.5,377.6 71.5,373.0 75.5,378.4 79.5,387.6 83.5,393.0 87.5,396.1 91.5,403.8 95.5,411.5 99.5,414.5 103.5,393.8 107.5,376.1 111.5,374.5 115.5,377.6 119.5,383.8 123.5,387.6 127.5,391.5 131.5,390.7 135.5,395.3 139.5,398.4 143.5,406.8 147.5,410.7 151.5,395.3 155.5,389.9 159.5,378.4 163.5,382.2 167.5,382.2 171.5,397.6 175.5,410.7 179.5,419.2 183.5,399.9 187.5,389.9 191.5,378.4 195.5,374.5 199.5,380.7 203.5,392.2 207.5,403.8 211.5,415.3 215.5,419.2 219.5,404.5 223.5,386.1 227.5,373.0 231.5,369.9 235.5,371.5 239.5,376.8 243.5,396.8 247.5,424.5 251.5,437.6 255.5,439.2 259.5,439.9 263.5,438.4 267.5,437.6 271.5,433.0 275.5,424.5 279.5,419.2 283.5,424.5 287.5,429.2 291.5,428.4 295.5,422.2 299.5,416.1 303.5,418.4 307.5,426.8 311.5,430.7 315.5,434.5 319.5,437.6 323.5,430.7 327.5,423.8 331.5,417.6 335.5,429.2 339.5,433.0 343.5,433.0 347.5,433.0 351.5,433.0 355.5,424.5 359.5,399.9 363.5,377.6 367.5,375.3 371.5,398.4 375.5,421.5 379.5,429.2 383.5,424.5 387.5,419.2 391.5,423.0 395.5,413.8 399.5,395.3 403.5,383.8 407.5,377.6 411.5,376.1 415.5,376.8 419.5,387.6 423.5,406.8 427.5,414.5 431.5,396.1 435.5,383.0 439.5,384.5 443.5,399.2" fill="none" stroke="#9acd32" stroke-width="1.15" stroke-linejoin="round"/>
<polyline points="3.2,424.5 7.5,413.8 11.5,399.2 15.5,388.4 19.5,393.0 23.5,409.2 27.5,420.7 31.5,422.2 35.5,410.7 39.5,398.4 43.5,384.5 47.5,376.8 51.5,374.5 55.5,378.4 59.5,383.0 63.5,381.5 67.5,378.4 71.5,374.5 75.5,376.8 79.5,383.0 83.5,389.2 87.5,391.5 91.5,398.4 95.5,406.8 99.5,412.2 103.5,401.5 107.5,383.8 111.5,376.1 115.5,376.1 119.5,381.5 123.5,385.3 127.5,388.4 131.5,389.2 135.5,393.8 139.5,396.1 143.5,401.5 147.5,408.4 151.5,400.7 155.5,392.2 159.5,383.8 163.5,382.2 167.5,382.2 171.5,392.2 175.5,403.8 179.5,413.8 183.5,406.1 187.5,396.1 191.5,384.5 195.5,378.4 199.5,377.6 203.5,384.5 207.5,396.1 211.5,407.6 215.5,414.5 219.5,409.9 223.5,396.1 227.5,380.7 231.5,373.0 235.5,371.5 239.5,374.5 243.5,387.6 247.5,409.2 251.5,429.2 255.5,436.1 259.5,439.2 263.5,438.4 267.5,436.8 271.5,433.0 275.5,427.6 279.5,421.5 283.5,423.0 287.5,426.8 291.5,427.6 295.5,423.0 299.5,416.8 303.5,419.2 307.5,423.0 311.5,427.6 315.5,431.5 319.5,435.3 323.5,432.2 327.5,426.8 331.5,422.2 335.5,426.1 339.5,430.7 343.5,433.0 347.5,433.0 351.5,433.0 355.5,427.6 359.5,409.2 363.5,391.5 367.5,379.9 371.5,389.2 375.5,407.6 379.5,421.5 383.5,426.1 387.5,422.2 391.5,421.5 395.5,415.3 399.5,407.6 403.5,393.0 407.5,382.2 411.5,378.4 415.5,377.6 419.5,383.0 423.5,397.6 427.5,408.4 431.5,403.8 435.5,393.8 439.5,386.1 443.5,396.1" fill="none" stroke="#4f652a" stroke-width="1.1" stroke-linejoin="round"/>
<text x="8.0" y="375.4" font-size="9.9" fill="#333b3b" stroke="#333b3b" stroke-width="0.22" textLength="58.5" lengthAdjust="spacingAndGlyphs">AC 0.0105602</text>
<text x="73.5" y="375.4" font-size="9.9" fill="#333b3b" stroke="#333b3b" stroke-width="0.22" textLength="121.5" lengthAdjust="spacingAndGlyphs">Stoch(5,3,3) 53.5976 64.3845</text>
<text x="610.4" y="373.0" font-size="9.9" fill="#333b3b" stroke="#333b3b" stroke-width="0.22" textLength="38.0" lengthAdjust="spacingAndGlyphs">0.035148</text>
<rect x="608" y="374.4" width="11.4" height="9.4" fill="#6b8e23"/>
<text x="609.0" y="382.6" font-size="9.9" fill="#fff" stroke="#fff" stroke-width="0.22" textLength="9.6" lengthAdjust="spacingAndGlyphs">80</text>
<rect x="607" y="410" width="2" height="1" fill="#3a4242"/>
<text x="610.4" y="414.0" font-size="9.9" fill="#333b3b" stroke="#333b3b" stroke-width="0.22" textLength="17.6" lengthAdjust="spacingAndGlyphs">0.00</text>
<rect x="608" y="422.2" width="11.4" height="9.4" fill="#6b8e23"/>
<text x="609.0" y="430.4" font-size="9.9" fill="#fff" stroke="#fff" stroke-width="0.22" textLength="9.6" lengthAdjust="spacingAndGlyphs">20</text>
<text x="610.4" y="440.6" font-size="9.9" fill="#333b3b" stroke="#333b3b" stroke-width="0.22" textLength="41.0" lengthAdjust="spacingAndGlyphs">-0.023755</text>
<line x1="3" y1="463.4" x2="606" y2="463.4" stroke="#bdbdbd" stroke-width="1" stroke-dasharray="4 3.85"/>
<line x1="3" y1="494.4" x2="606" y2="494.4" stroke="#bdbdbd" stroke-width="1" stroke-dasharray="4 3.85"/>
<g>
<rect x="3" y="474.4" width="1" height="11.2" fill="#ff0000"/>
<rect x="7" y="474.4" width="1" height="12.0" fill="#ff0000"/>
<rect x="11" y="474.4" width="1" height="10.0" fill="#4f6d14"/>
<rect x="15" y="474.4" width="1" height="7.4" fill="#4f6d14"/>
<rect x="19" y="474.4" width="1" height="3.5" fill="#4f6d14"/>
<rect x="23" y="474.4" width="1" height="5.0" fill="#4f6d14"/>
<rect x="27" y="474.4" width="1" height="7.4" fill="#ff0000"/>
<rect x="31" y="474.4" width="1" height="9.0" fill="#ff0000"/>
<rect x="35" y="474.4" width="1" height="10.0" fill="#ff0000"/>
<rect x="39" y="474.4" width="1" height="10.0" fill="#4f6d14"/>
<rect x="43" y="474.4" width="1" height="7.4" fill="#4f6d14"/>
<rect x="47" y="474.4" width="1" height="2.5" fill="#4f6d14"/>
<rect x="51" y="473.7" width="1" height="1.4" fill="#4f6d14"/>
<rect x="55" y="471.8" width="1" height="2.6" fill="#4f6d14"/>
<rect x="59" y="469.2" width="1" height="5.2" fill="#4f6d14"/>
<rect x="63" y="466.4" width="1" height="8.0" fill="#4f6d14"/>
<rect x="67" y="463.4" width="1" height="11.0" fill="#4f6d14"/>
<rect x="71" y="460.4" width="1" height="14.0" fill="#4f6d14"/>
<rect x="75" y="457.4" width="1" height="17.0" fill="#4f6d14"/>
<rect x="79" y="455.9" width="1" height="18.5" fill="#4f6d14"/>
<rect x="83" y="454.9" width="1" height="19.5" fill="#4f6d14"/>
<rect x="87" y="454.1" width="1" height="20.3" fill="#4f6d14"/>
<rect x="91" y="454.4" width="1" height="20.0" fill="#ff0000"/>
<rect x="95" y="454.9" width="1" height="19.5" fill="#ff0000"/>
<rect x="99" y="455.9" width="1" height="18.5" fill="#ff0000"/>
<rect x="103" y="456.4" width="1" height="18.0" fill="#ff0000"/>
<rect x="107" y="457.9" width="1" height="16.5" fill="#ff0000"/>
<rect x="111" y="457.2" width="1" height="17.2" fill="#4f6d14"/>
<rect x="115" y="456.4" width="1" height="18.0" fill="#4f6d14"/>
<rect x="119" y="455.6" width="1" height="18.8" fill="#4f6d14"/>
<rect x="123" y="454.9" width="1" height="19.5" fill="#4f6d14"/>
<rect x="127" y="456.4" width="1" height="18.0" fill="#4f6d14"/>
<rect x="131" y="454.1" width="1" height="20.3" fill="#ff0000"/>
<rect x="135" y="452.6" width="1" height="21.8" fill="#ff0000"/>
<rect x="139" y="453.4" width="1" height="21.0" fill="#ff0000"/>
<rect x="143" y="452.6" width="1" height="21.8" fill="#ff0000"/>
<rect x="147" y="454.1" width="1" height="20.3" fill="#ff0000"/>
<rect x="151" y="454.9" width="1" height="19.5" fill="#ff0000"/>
<rect x="155" y="453.4" width="1" height="21.0" fill="#4f6d14"/>
<rect x="159" y="454.9" width="1" height="19.5" fill="#ff0000"/>
<rect x="163" y="454.9" width="1" height="19.5" fill="#4f6d14"/>
<rect x="167" y="454.4" width="1" height="20.0" fill="#4f6d14"/>
<rect x="171" y="455.6" width="1" height="18.8" fill="#ff0000"/>
<rect x="175" y="458.7" width="1" height="15.7" fill="#ff0000"/>
<rect x="179" y="461.0" width="1" height="13.4" fill="#ff0000"/>
<rect x="183" y="461.8" width="1" height="12.6" fill="#ff0000"/>
<rect x="187" y="462.4" width="1" height="12.0" fill="#ff0000"/>
<rect x="191" y="462.1" width="1" height="12.3" fill="#4f6d14"/>
<rect x="195" y="461.0" width="1" height="13.4" fill="#4f6d14"/>
<rect x="199" y="460.1" width="1" height="14.3" fill="#4f6d14"/>
<rect x="203" y="461.4" width="1" height="13.0" fill="#4f6d14"/>
<rect x="207" y="460.4" width="1" height="14.0" fill="#ff0000"/>
<rect x="211" y="461.0" width="1" height="13.4" fill="#ff0000"/>
<rect x="215" y="464.0" width="1" height="10.4" fill="#ff0000"/>
<rect x="219" y="464.1" width="1" height="10.3" fill="#ff0000"/>
<rect x="223" y="464.0" width="1" height="10.4" fill="#4f6d14"/>
<rect x="227" y="464.0" width="1" height="10.4" fill="#4f6d14"/>
<rect x="231" y="462.0" width="1" height="12.4" fill="#4f6d14"/>
<rect x="235" y="461.2" width="1" height="13.2" fill="#4f6d14"/>
<rect x="239" y="460.9" width="1" height="13.5" fill="#4f6d14"/>
<rect x="243" y="461.0" width="1" height="13.4" fill="#ff0000"/>
<rect x="247" y="462.1" width="1" height="12.3" fill="#ff0000"/>
<rect x="251" y="464.9" width="1" height="9.5" fill="#ff0000"/>
<rect x="255" y="467.9" width="1" height="6.5" fill="#ff0000"/>
<rect x="259" y="471.0" width="1" height="3.4" fill="#ff0000"/>
<rect x="267" y="474.4" width="1" height="2.0" fill="#ff0000"/>
<rect x="271" y="474.4" width="1" height="7.0" fill="#ff0000"/>
<rect x="275" y="474.4" width="1" height="10.2" fill="#ff0000"/>
<rect x="279" y="474.4" width="1" height="12.0" fill="#ff0000"/>
<rect x="283" y="474.4" width="1" height="15.0" fill="#ff0000"/>
<rect x="287" y="474.4" width="1" height="16.6" fill="#ff0000"/>
<rect x="291" y="474.4" width="1" height="18.4" fill="#ff0000"/>
<rect x="295" y="474.4" width="1" height="18.2" fill="#ff0000"/>
<rect x="299" y="474.4" width="1" height="19.4" fill="#ff0000"/>
<rect x="303" y="474.4" width="1" height="21.5" fill="#ff0000"/>
<rect x="307" y="474.4" width="1" height="23.0" fill="#ff0000"/>
<rect x="311" y="474.4" width="1" height="25.4" fill="#ff0000"/>
<rect x="315" y="474.4" width="1" height="27.0" fill="#ff0000"/>
<rect x="319" y="474.4" width="1" height="28.5" fill="#ff0000"/>
<rect x="323" y="474.4" width="1" height="28.5" fill="#ff0000"/>
<rect x="327" y="474.4" width="1" height="28.5" fill="#4f6d14"/>
<rect x="331" y="474.4" width="1" height="27.7" fill="#4f6d14"/>
<rect x="335" y="474.4" width="1" height="27.0" fill="#ff0000"/>
<rect x="339" y="474.4" width="1" height="30.0" fill="#ff0000"/>
<rect x="343" y="474.4" width="1" height="31.5" fill="#ff0000"/>
<rect x="347" y="474.4" width="1" height="33.8" fill="#ff0000"/>
<rect x="351" y="474.4" width="1" height="35.4" fill="#ff0000"/>
<rect x="355" y="474.4" width="1" height="35.4" fill="#ff0000"/>
<rect x="359" y="474.4" width="1" height="33.5" fill="#4f6d14"/>
<rect x="363" y="474.4" width="1" height="30.0" fill="#4f6d14"/>
<rect x="367" y="474.4" width="1" height="25.4" fill="#4f6d14"/>
<rect x="371" y="474.4" width="1" height="20.8" fill="#4f6d14"/>
<rect x="375" y="474.4" width="1" height="23.8" fill="#4f6d14"/>
<rect x="379" y="474.4" width="1" height="23.0" fill="#ff0000"/>
<rect x="383" y="474.4" width="1" height="23.4" fill="#ff0000"/>
<rect x="387" y="474.4" width="1" height="26.7" fill="#ff0000"/>
<rect x="391" y="474.4" width="1" height="27.7" fill="#ff0000"/>
<rect x="395" y="474.4" width="1" height="26.7" fill="#4f6d14"/>
<rect x="399" y="474.4" width="1" height="23.6" fill="#4f6d14"/>
<rect x="403" y="474.4" width="1" height="20.0" fill="#4f6d14"/>
<rect x="407" y="474.4" width="1" height="14.6" fill="#4f6d14"/>
<rect x="411" y="474.4" width="1" height="8.5" fill="#4f6d14"/>
<rect x="415" y="474.4" width="1" height="1.5" fill="#4f6d14"/>
<rect x="419" y="473.4" width="1" height="1.0" fill="#4f6d14"/>
<rect x="423" y="471.9" width="1" height="2.5" fill="#4f6d14"/>
<rect x="427" y="470.9" width="1" height="3.5" fill="#4f6d14"/>
<rect x="431" y="469.6" width="1" height="4.8" fill="#4f6d14"/>
<rect x="435" y="468.1" width="1" height="6.3" fill="#4f6d14"/>
<rect x="439" y="466.2" width="1" height="8.2" fill="#4f6d14"/>
<rect x="443" y="463.8" width="1" height="10.6" fill="#4f6d14"/>
</g>
<polyline points="3.2,487.3 7.5,463.5 11.5,455.0 15.5,461.9 19.5,480.4 23.5,498.8 27.5,501.2 31.5,488.8 35.5,477.3 39.5,481.9 43.5,470.4 47.5,462.7 51.5,460.4 55.5,468.8 59.5,466.5 63.5,460.4 67.5,450.4 71.5,454.2 75.5,458.1 79.5,462.7 83.5,464.2 87.5,461.9 91.5,469.6 95.5,472.7 99.5,474.2 103.5,467.3 107.5,458.8 111.5,453.5 115.5,456.5 119.5,459.6 123.5,457.3 127.5,457.3 131.5,465.0 135.5,468.1 139.5,461.9 143.5,464.2 147.5,478.1 151.5,460.4 155.5,450.8 159.5,455.8 163.5,458.8 167.5,461.9 171.5,475.0 175.5,477.3 179.5,471.9 183.5,465.0 187.5,460.4 191.5,458.1 195.5,456.5 199.5,454.2 203.5,463.5 207.5,463.5 211.5,472.7 215.5,475.0 219.5,465.0 223.5,455.8 227.5,457.3 231.5,451.5 235.5,454.2 239.5,459.6 243.5,470.4 247.5,481.2 251.5,488.8 255.5,495.0 259.5,501.2 263.5,501.9 267.5,504.2 271.5,510.4 275.5,497.3 279.5,494.2 283.5,498.1 287.5,496.5 291.5,495.8 295.5,492.7 299.5,491.2 303.5,496.5 307.5,499.6 311.5,502.7 315.5,498.8 319.5,496.5 323.5,495.0 327.5,492.7 331.5,494.2 335.5,496.5 339.5,508.1 343.5,505.0 347.5,502.7 351.5,497.3 355.5,491.2 359.5,485.0 363.5,480.4 367.5,477.0 371.5,486.5 375.5,500.4 379.5,498.8 383.5,497.3 387.5,498.5 391.5,498.5 395.5,494.2 399.5,480.4 403.5,468.1 407.5,468.1 411.5,458.8 415.5,461.9 419.5,469.6 423.5,472.4 427.5,468.1 431.5,461.2 435.5,459.6 439.5,465.0 443.5,474.2" fill="none" stroke="#0c800c" stroke-width="1.05" stroke-linejoin="round"/>
<text x="8.0" y="458.4" font-size="9.9" fill="#333b3b" stroke="#333b3b" stroke-width="0.22" textLength="53.5" lengthAdjust="spacingAndGlyphs">AO 0.028907</text>
<text x="68.5" y="458.4" font-size="9.9" fill="#333b3b" stroke="#333b3b" stroke-width="0.22" textLength="69.5" lengthAdjust="spacingAndGlyphs">CCI(14) 41.0907</text>
<text x="610.4" y="456.4" font-size="9.9" fill="#333b3b" stroke="#333b3b" stroke-width="0.22" textLength="37.0" lengthAdjust="spacingAndGlyphs">0.073085</text>
<text x="610.0" y="466.0" font-size="9.9" fill="#333b3b" stroke="#333b3b" stroke-width="0.22" textLength="14.0" lengthAdjust="spacingAndGlyphs">100</text>
<rect x="607" y="473.2" width="2" height="1" fill="#3a4242"/>
<text x="610.4" y="477.0" font-size="9.9" fill="#333b3b" stroke="#333b3b" stroke-width="0.22" textLength="17.6" lengthAdjust="spacingAndGlyphs">0.00</text>
<text x="610.0" y="497.0" font-size="9.9" fill="#333b3b" stroke="#333b3b" stroke-width="0.22" textLength="16.5" lengthAdjust="spacingAndGlyphs">-100</text>
<text x="610.4" y="511.4" font-size="9.9" fill="#333b3b" stroke="#333b3b" stroke-width="0.22" textLength="39.0" lengthAdjust="spacingAndGlyphs">-0.107361</text>
<path d="M3 509 l5 5 h-5z" fill="#c0c0c0"/>
<rect x="3" y="515" width="1" height="3.4" fill="#3a4242"/>
<text x="2.6" y="527.0" font-size="9.9" fill="#333b3b" stroke="#333b3b" stroke-width="0.22" textLength="54.6" lengthAdjust="spacingAndGlyphs">26 May 2013</text>
<rect x="67" y="515" width="1" height="3.4" fill="#3a4242"/>
<text x="66.6" y="527.0" font-size="9.9" fill="#333b3b" stroke="#333b3b" stroke-width="0.22" textLength="51.5" lengthAdjust="spacingAndGlyphs">15 Sep 2013</text>
<rect x="131" y="515" width="1" height="3.4" fill="#3a4242"/>
<text x="130.6" y="527.0" font-size="9.9" fill="#333b3b" stroke="#333b3b" stroke-width="0.22" textLength="43.4" lengthAdjust="spacingAndGlyphs">5 Jan 2014</text>
<rect x="195" y="515" width="1" height="3.4" fill="#3a4242"/>
<text x="194.6" y="527.0" font-size="9.9" fill="#333b3b" stroke="#333b3b" stroke-width="0.22" textLength="49.0" lengthAdjust="spacingAndGlyphs">27 Apr 2014</text>
<rect x="259" y="515" width="1" height="3.4" fill="#3a4242"/>
<text x="258.6" y="527.0" font-size="9.9" fill="#333b3b" stroke="#333b3b" stroke-width="0.22" textLength="52.4" lengthAdjust="spacingAndGlyphs">17 Aug 2014</text>
<rect x="323" y="515" width="1" height="3.4" fill="#3a4242"/>
<text x="322.6" y="527.0" font-size="9.9" fill="#333b3b" stroke="#333b3b" stroke-width="0.22" textLength="45.6" lengthAdjust="spacingAndGlyphs">7 Dec 2014</text>
<rect x="387" y="515" width="1" height="3.4" fill="#3a4242"/>
<text x="386.6" y="527.0" font-size="9.9" fill="#333b3b" stroke="#333b3b" stroke-width="0.22" textLength="51.0" lengthAdjust="spacingAndGlyphs">29 Mar 2015</text>
</svg>
</body></html>
